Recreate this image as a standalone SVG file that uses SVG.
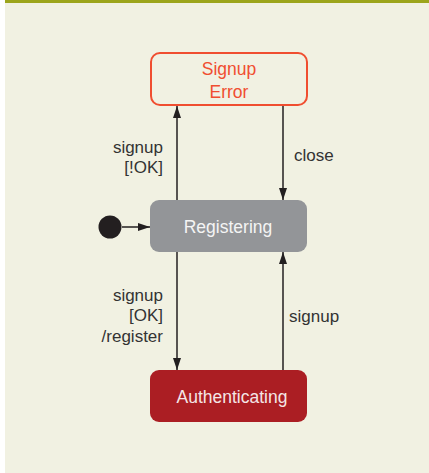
<svg xmlns="http://www.w3.org/2000/svg" width="429" height="473" viewBox="0 0 429 473">
<defs>
<marker id="ah" viewBox="0 0 12 8" refX="12" refY="4" markerWidth="12" markerHeight="8" markerUnits="userSpaceOnUse" orient="auto">
<path d="M0,0 L12,4 L0,8 Z" fill="#231f20"/>
</marker>
</defs>
<style>
text{font-family:"Liberation Sans",Arial,sans-serif;font-size:17.5px}
.lbl{fill:#333333;font-size:17px}
.edge{stroke:#231f20;stroke-width:1.5;fill:none;marker-end:url(#ah)}
</style>
<rect x="5" y="0" width="424" height="473" fill="#f1f1e2"/>
<rect x="5" y="0" width="424" height="3" fill="#9ca51b"/>
<g id="signup-error">
<rect x="151" y="53" width="156" height="52" rx="9" fill="none" stroke="#f04e30" stroke-width="2"/>
<text x="229" y="75" text-anchor="middle" fill="#f04e30">Signup</text>
<text x="229" y="98" text-anchor="middle" fill="#f04e30">Error</text>
</g>
<g id="registering">
<rect x="150" y="200" width="157" height="52" rx="9" fill="#939598"/>
<text x="228" y="233" text-anchor="middle" fill="#f4f4f4">Registering</text>
</g>
<g id="authenticating">
<rect x="150" y="370" width="157" height="52" rx="9" fill="#ab1e23"/>
<text x="232" y="403" text-anchor="middle" fill="#f4e6e6">Authenticating</text>
</g>
<g id="initial">
<circle cx="110" cy="227" r="11.5" fill="#231f20"/>
</g>
<g id="connectors">
<line class="edge" x1="122" y1="227" x2="150" y2="227"/>
<line class="edge" x1="177" y1="200" x2="177" y2="106"/>
<line class="edge" x1="283" y1="106" x2="283" y2="200"/>
<line class="edge" x1="177" y1="252" x2="177" y2="370"/>
<line class="edge" x1="283" y1="370" x2="283" y2="252"/>
</g>
<g id="labels">
<text class="lbl" x="163" y="153" text-anchor="end">signup</text>
<text class="lbl" x="163" y="173" text-anchor="end">[!OK]</text>
<text class="lbl" x="294" y="161">close</text>
<text class="lbl" x="163" y="301" text-anchor="end">signup</text>
<text class="lbl" x="163" y="321" text-anchor="end">[OK]</text>
<text class="lbl" x="163" y="342" text-anchor="end">/register</text>
<text class="lbl" x="289" y="322">signup</text>
</g>
</svg>
